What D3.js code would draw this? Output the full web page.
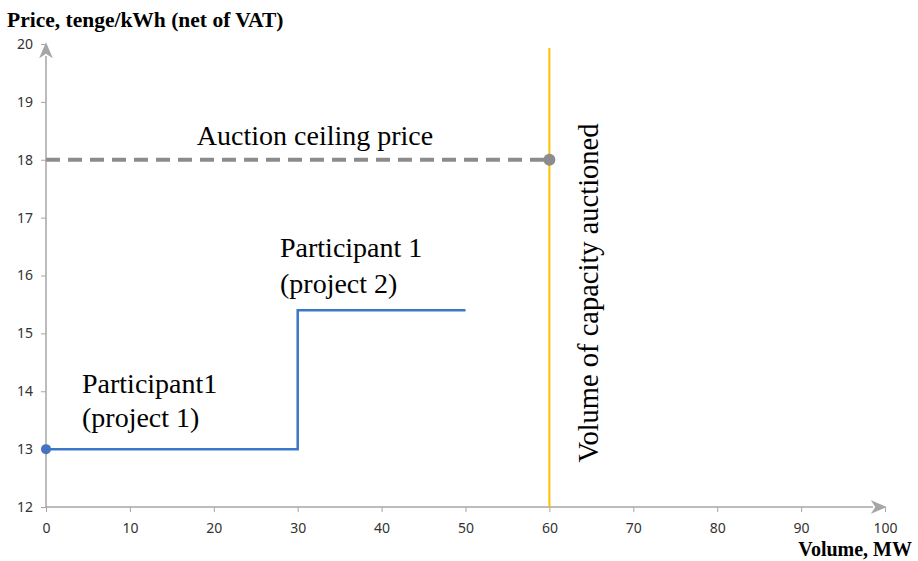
<!DOCTYPE html>
<html>
<head>
<meta charset="utf-8">
<script src="https://cdn.jsdelivr.net/npm/d3@7"></script>
<style>
  body { margin: 0; background: #fff; }
  svg { display: block; }
</style>
</head>
<body>
<svg id="chart"></svg>
<script>
// bid curve (volume MW, price tenge/kWh)
var bidVolume = [0, 30, 30, 50];
var bidPrice = [13, 13, 15.4, 15.4];
var ceilingPrice = 18;
var auctionVolume = 60;
var xTicks = [0, 10, 20, 30, 40, 50, 60, 70, 80, 90, 100];
var yTicks = [12, 13, 14, 15, 16, 17, 18, 19, 20];

var width = 918, height = 561;
var svg = d3.select('#chart').attr('width', width).attr('height', height);

var x = d3.scaleLinear().domain([0, 100]).range([46, 885]);
var y = d3.scaleLinear().domain([12, 20]).range([507, 44]);

var axisColor = '#a6a6a6';

svg.append('defs').append('marker')
  .attr('id', 'arrow')
  .attr('viewBox', '0 -6 14 12')
  .attr('refX', 2)
  .attr('refY', 0)
  .attr('orient', 'auto')
  .attr('markerUnits', 'userSpaceOnUse')
  .attr('markerWidth', 16)
  .attr('markerHeight', 14)
  .append('path')
  .attr('d', 'M0,-6 L14,0 L0,6 L4,0 Z')
  .attr('fill', axisColor);

// x axis
var xAxis = d3.axisBottom(x).tickValues(xTicks).tickSize(5).tickSizeOuter(0);
var gx = svg.append('g').attr('transform', 'translate(0,' + y(12) + ')').call(xAxis);
gx.attr('font-size', null).attr('font-family', null);
gx.select('.domain').remove();
gx.selectAll('line').attr('stroke', axisColor);
gx.selectAll('text').attr('dy', '1.3em').attr('fill', '#333')
  .style('font-family', 'Noto Sans, sans-serif').style('font-size', '14px');

// y axis
var yAxis = d3.axisLeft(y).tickValues(yTicks).tickSize(5).tickSizeOuter(0);
var gy = svg.append('g').attr('transform', 'translate(' + x(0) + ',0)').call(yAxis);
gy.attr('font-size', null).attr('font-family', null);
gy.select('.domain').remove();
gy.selectAll('line').attr('stroke', axisColor);
gy.selectAll('text').attr('x', -13).attr('fill', '#333')
  .style('font-family', 'Noto Sans, sans-serif').style('font-size', '14px');

// axis lines with arrows
svg.append('line')
  .attr('x1', x(0)).attr('y1', y(12)).attr('x2', x(100) - 12).attr('y2', y(12))
  .attr('stroke', axisColor).attr('stroke-width', 1.5)
  .attr('marker-end', 'url(#arrow)');
svg.append('line')
  .attr('x1', x(0)).attr('y1', y(12)).attr('x2', x(0)).attr('y2', y(20) + 12)
  .attr('stroke', axisColor).attr('stroke-width', 1.5)
  .attr('marker-end', 'url(#arrow)');

// ceiling price dashed
svg.append('line')
  .attr('x1', x(0)).attr('x2', x(auctionVolume))
  .attr('y1', y(ceilingPrice)).attr('y2', y(ceilingPrice))
  .attr('stroke', '#8c8c8c').attr('stroke-width', 4)
  .attr('stroke-dasharray', '14,8');

// auction volume line
svg.append('line')
  .attr('x1', x(auctionVolume)).attr('x2', x(auctionVolume))
  .attr('y1', y(20) + 4).attr('y2', y(12))
  .attr('stroke', '#ffc000').attr('stroke-width', 2);

svg.append('circle')
  .attr('cx', x(auctionVolume)).attr('cy', y(ceilingPrice)).attr('r', 6)
  .attr('fill', '#8c8c8c');

// bid step line
var pts = bidVolume.map(function (v, i) { return [v, bidPrice[i]]; });
var line = d3.line().x(function (d) { return x(d[0]); }).y(function (d) { return y(d[1]); });
svg.append('path').datum(pts)
  .attr('d', line)
  .attr('fill', 'none')
  .attr('stroke', '#3a78c9').attr('stroke-width', 2.5);

svg.append('circle')
  .attr('cx', x(bidVolume[0])).attr('cy', y(bidPrice[0])).attr('r', 5)
  .attr('fill', '#4472c4');

// labels
var serif = 'Liberation Serif, Times New Roman, serif';
function label(t, px, py, size, weight, anchor) {
  return svg.append('text').text(t)
    .attr('x', px).attr('y', py)
    .attr('text-anchor', anchor || 'start')
    .style('font-family', serif).style('font-size', size + 'px')
    .style('font-weight', weight || 'normal').attr('fill', '#000');
}

label('Price, tenge/kWh (net of VAT)', 7, 27, 21.5, 'bold');
label('Volume, MW', 912, 556, 20, 'bold', 'end');
label('Auction ceiling price', 315, 145, 28, 'normal', 'middle');
label('Participant 1', 280, 257, 28);
label('(project 2)', 280, 293, 28);
label('Participant1', 82, 393, 28);
label('(project 1)', 82, 427, 28);

svg.append('text').text('Volume of capacity auctioned')
  .attr('transform', 'translate(598,293) rotate(-90)')
  .attr('text-anchor', 'middle')
  .style('font-family', serif).style('font-size', '28.5px').attr('fill', '#000');
</script>
</body>
</html>
